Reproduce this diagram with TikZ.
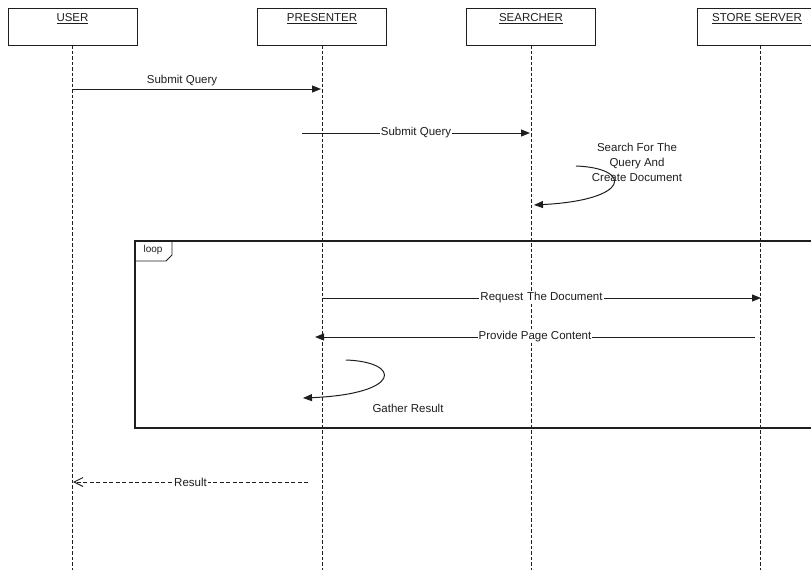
\documentclass[tikz,border=0pt]{standalone}
\usepackage{fontspec}
\setmainfont{Liberation Sans}
\usetikzlibrary{arrows.meta}
\definecolor{ln}{HTML}{1E1E1E}
\tikzset{
  x=1pt,y=-1pt,
  actor/.style={draw=ln,line width=1pt,minimum width=129pt,minimum height=37pt,inner sep=0pt},
  lifeline/.style={draw=ln,line width=0.9pt,dash pattern=on 3.5pt off 2pt},
  msg/.style={draw=ln,line width=1pt,-{Triangle[length=9pt,width=7pt]}},
  reply/.style={draw=ln,line width=1pt,dash pattern=on 4pt off 2.5pt,-{Straight Barb[length=9pt,width=9pt,line width=0.9pt]}},
  lbl/.style={font=\fontsize{11.5}{13}\selectfont,text=ln,inner sep=1pt},
  inl/.style={lbl,fill=white},
  frame/.style={draw=ln,line width=1.1pt},
}
\begin{document}
\begin{tikzpicture}
\useasboundingbox (0,0) rectangle (811,570);
% actors
\node[actor] (user) at (72.5,26.5) {};
\node[actor] (pres) at (322,26.5) {};
\node[actor] (srch) at (531,26.5) {};
\node[actor,minimum width=122pt] (stor) at (758,26.5) {};
\node[lbl,anchor=north] (tuser) at (72.5,12) {\underline{USER}};
\node[lbl,anchor=north] (tpres) at (322,12) {\underline{PRESENTER}};
\node[lbl,anchor=north] (tsrch) at (531,12) {\underline{SEARCHER}};
\node[lbl,anchor=north] (tstor) at (757,12) {\underline{STORE SERVER}};
% lifelines
\coordinate (uend) at (72,570);
\coordinate (pend) at (322,570);
\coordinate (send) at (531,570);
\coordinate (tend) at (760,570);
\draw[lifeline] (72,45) -- (uend);
\draw[lifeline] (322,45) -- (pend);
\draw[lifeline] (531,45) -- (send);
\draw[lifeline] (760,45) -- (tend);
% loop frame
\draw[frame] (811,241) -- (135,241) -- (135,428) -- (811,428);
\coordinate (lf1) at (172,241);
\coordinate (lf2) at (135,261);
\draw[frame,line width=0.8pt] (lf1) -- (172,255) -- (166,261) -- (lf2);
\node[lbl,font=\fontsize{10}{12}\selectfont] (looplbl) at (153,250) {loop};
% messages
\coordinate (m1a) at (72,89);
\coordinate (m1b) at (321,89);
\draw[msg] (m1a) -- (m1b);
\node[lbl] (m1l) at (182,81) {Submit Query};
\coordinate (m2a) at (302,133);
\coordinate (m2b) at (530,133);
\draw[msg] (m2a) -- node[inl] (m2l) {Submit Query} (m2b);
% self loop searcher
\coordinate (s1a) at (576,166);
\coordinate (s1b) at (534,205);
\draw[msg] (s1a) .. controls (632,168) and (632,200) .. (s1b);
\node[lbl,align=center,font=\fontsize{11.5}{15}\selectfont] (s1l) at (637,162) {Search For The\\Query And\\Create Document};
% request
\coordinate (m3a) at (322,298);
\coordinate (m3b) at (761,298);
\draw[msg] (m3a) -- node[inl,pos=0.5] (m3l) {Request\,\,The Document} (m3b);
\coordinate (m4a) at (755,337);
\coordinate (m4b) at (315,337);
\draw[msg] (m4a) -- node[inl,pos=0.5] (m4l) {Provide Page Content} (m4b);
% self loop presenter
\coordinate (s2a) at (346,360);
\coordinate (s2b) at (303,398);
\draw[msg] (s2a) .. controls (402,362) and (402,394) .. (s2b);
\node[lbl] (s2l) at (408,408) {Gather Result};
% result
\coordinate (m5a) at (308,482);
\coordinate (m5b) at (73,482);
\draw[reply] (m5a) -- node[inl,pos=0.5] (m5l) {Result} (m5b);
\end{tikzpicture}
\end{document}
